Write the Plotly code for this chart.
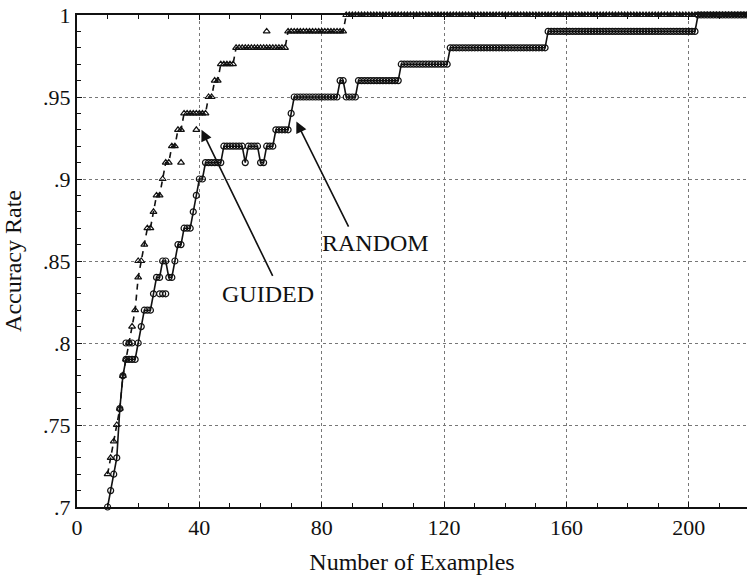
import plotly.graph_objects as go

# Number of training examples (one sample per example count)
examples = list(range(10, 220))

# Accuracy of the randomly sampled training set
random_acc = [
    .70, .71, .72, .73, .76, .78, .79, .79, .79, .79,   # 10-19
    .80, .81, .82, .82, .82, .83, .84, .84, .85, .85,   # 20-29
    .84, .84, .85, .86, .86, .87, .87, .87, .88, .89,   # 30-39
    .90, .90, .91, .91, .91, .91, .91, .91, .92, .92,   # 40-49
    .92, .92, .92, .92, .92, .91, .92, .92, .92, .92,   # 50-59
    .91, .91, .92, .92, .92, .93, .93, .93, .93, .93,   # 60-69
    .94, .95, .95, .95, .95, .95, .95, .95, .95, .95,   # 70-79
    .95, .95, .95, .95, .95, .95, .96, .96, .95, .95,   # 80-89
    .95, .95, .96, .96, .96, .96, .96, .96, .96, .96,   # 90-99
    .96, .96, .96, .96, .96, .96, .97, .97, .97, .97,   # 100-109
    .97, .97, .97, .97, .97, .97, .97, .97, .97, .97,   # 110-119
    .97, .97, .98, .98, .98, .98, .98, .98, .98, .98,   # 120-129
    .98, .98, .98, .98, .98, .98, .98, .98, .98, .98,   # 130-139
    .98, .98, .98, .98, .98, .98, .98, .98, .98, .98,   # 140-149
    .98, .98, .98, .98, .99, .99, .99, .99, .99, .99,   # 150-159
    .99, .99, .99, .99, .99, .99, .99, .99, .99, .99,   # 160-169
    .99, .99, .99, .99, .99, .99, .99, .99, .99, .99,   # 170-179
    .99, .99, .99, .99, .99, .99, .99, .99, .99, .99,   # 180-189
    .99, .99, .99, .99, .99, .99, .99, .99, .99, .99,   # 190-199
    .99, .99, .99, 1.0, 1.0, 1.0, 1.0, 1.0, 1.0, 1.0,   # 200-209
    1.0, 1.0, 1.0, 1.0, 1.0, 1.0, 1.0, 1.0, 1.0, 1.0,   # 210-219
]

# Accuracy of the guided training set
guided_acc = [
    .72, .73, .74, .75, .76, .78, .79, .80, .81, .82,   # 10-19
    .84, .85, .86, .87, .87, .88, .89, .89, .90, .91,   # 20-29
    .91, .92, .92, .93, .93, .94, .94, .94, .94, .94,   # 30-39
    .94, .94, .94, .95, .95, .96, .96, .97, .97, .97,   # 40-49
    .97, .97, .98, .98, .98, .98, .98, .98, .98, .98,   # 50-59
    .98, .98, .98, .98, .98, .98, .98, .98, .98, .99,   # 60-69
    .99, .99, .99, .99, .99, .99, .99, .99, .99, .99,   # 70-79
    .99, .99, .99, .99, .99, .99, .99, .99, 1.0, 1.0,   # 80-89
    1.0, 1.0, 1.0, 1.0, 1.0, 1.0, 1.0, 1.0, 1.0, 1.0,   # 90-99
    1.0, 1.0, 1.0, 1.0, 1.0, 1.0, 1.0, 1.0, 1.0, 1.0,   # 100-109
    1.0, 1.0, 1.0, 1.0, 1.0, 1.0, 1.0, 1.0, 1.0, 1.0,   # 110-119
    1.0, 1.0, 1.0, 1.0, 1.0, 1.0, 1.0, 1.0, 1.0, 1.0,   # 120-129
    1.0, 1.0, 1.0, 1.0, 1.0, 1.0, 1.0, 1.0, 1.0, 1.0,   # 130-139
    1.0, 1.0, 1.0, 1.0, 1.0, 1.0, 1.0, 1.0, 1.0, 1.0,   # 140-149
    1.0, 1.0, 1.0, 1.0, 1.0, 1.0, 1.0, 1.0, 1.0, 1.0,   # 150-159
    1.0, 1.0, 1.0, 1.0, 1.0, 1.0, 1.0, 1.0, 1.0, 1.0,   # 160-169
    1.0, 1.0, 1.0, 1.0, 1.0, 1.0, 1.0, 1.0, 1.0, 1.0,   # 170-179
    1.0, 1.0, 1.0, 1.0, 1.0, 1.0, 1.0, 1.0, 1.0, 1.0,   # 180-189
    1.0, 1.0, 1.0, 1.0, 1.0, 1.0, 1.0, 1.0, 1.0, 1.0,   # 190-199
    1.0, 1.0, 1.0, 1.0, 1.0, 1.0, 1.0, 1.0, 1.0, 1.0,   # 200-209
    1.0, 1.0, 1.0, 1.0, 1.0, 1.0, 1.0, 1.0, 1.0, 1.0,   # 210-219
]

# Scattered samples that sit off the connecting curves
random_stray_x = [16, 17, 18, 27, 28, 29]
random_stray_y = [.80, .80, .80, .83, .83, .83]
guided_stray_x = [20, 34, 39, 62]
guided_stray_y = [.85, .91, .93, .99]

# Axis ticks
x_ticks = [0, 40, 80, 120, 160, 200]
y_ticks = [0.70, 0.75, 0.80, 0.85, 0.90, 0.95, 1.00]
y_tick_text = [".7", ".75", ".8", ".85", ".9", ".95", "1"]

# Callout labels: (text, label position, arrow tip, arrow tail)
callouts = [
    ("RANDOM", (97.5, 0.861), (71.7, 0.935), (89.0, 0.870)),
    ("GUIDED", (62.5, 0.830), (40.7, 0.930), (64.2, 0.840)),
]

SERIF = "Liberation Serif, Times New Roman, serif"
INK = "#111111"

fig = go.Figure()

fig.add_trace(go.Scatter(
    x=examples, y=random_acc, mode="lines+markers", name="RANDOM",
    line=dict(color=INK, width=1.6),
    marker=dict(symbol="circle-open", size=6, color=INK, line=dict(width=1.2)),
    cliponaxis=False,
))
fig.add_trace(go.Scatter(
    x=examples, y=guided_acc, mode="lines+markers", name="GUIDED",
    line=dict(color=INK, width=1.6, dash="6px,5px"),
    marker=dict(symbol="triangle-up-open", size=6, color=INK, line=dict(width=1.2)),
    cliponaxis=False,
))
fig.add_trace(go.Scatter(
    x=random_stray_x, y=random_stray_y, mode="markers", showlegend=False,
    marker=dict(symbol="circle-open", size=6, color=INK, line=dict(width=1.2)),
))
fig.add_trace(go.Scatter(
    x=guided_stray_x, y=guided_stray_y, mode="markers", showlegend=False,
    marker=dict(symbol="triangle-up-open", size=6, color=INK, line=dict(width=1.2)),
))

for text, (lx, ly), (hx, hy), (tx, ty) in callouts:
    fig.add_annotation(
        x=hx, y=hy, ax=tx, ay=ty, xref="x", yref="y", axref="x", ayref="y",
        text="", showarrow=True, arrowhead=2, arrowsize=1.4, arrowwidth=1.6,
        arrowcolor=INK,
    )
    fig.add_annotation(
        x=lx, y=ly, xref="x", yref="y", text=text, showarrow=False,
        font=dict(family=SERIF, size=24, color=INK),
    )

axis_common = dict(
    showline=True, linecolor=INK, linewidth=2,
    ticks="inside", ticklen=5, tickcolor=INK, tickwidth=1.2,
    showgrid=True, gridcolor="#777777", gridwidth=1, griddash="dot",
    zeroline=False,
    tickfont=dict(family=SERIF, size=22, color=INK),
)

fig.update_xaxes(
    **axis_common,
    range=[0, 219], tickmode="array", tickvals=x_ticks,
    mirror="ticks",
    minor=dict(tickmode="linear", tick0=0, dtick=10, ticks="inside",
               ticklen=4, tickcolor=INK, showgrid=False),
    title=dict(text="Number of Examples", standoff=14,
               font=dict(family=SERIF, size=24, color=INK)),
)
fig.update_yaxes(
    **axis_common,
    range=[0.7, 1.0], tickmode="array", tickvals=y_ticks, ticktext=y_tick_text,
    minor=dict(tickmode="linear", tick0=0.7, dtick=0.01, ticks="inside",
               ticklen=4, tickcolor=INK, showgrid=False),
    title=dict(text="Accuracy Rate", standoff=15,
               font=dict(family=SERIF, size=24, color=INK)),
)

fig.update_layout(
    width=747, height=580,
    margin=dict(l=77, r=0, t=15, b=73),
    paper_bgcolor="white", plot_bgcolor="white",
    showlegend=False,
)

fig.write_html("out.html")
